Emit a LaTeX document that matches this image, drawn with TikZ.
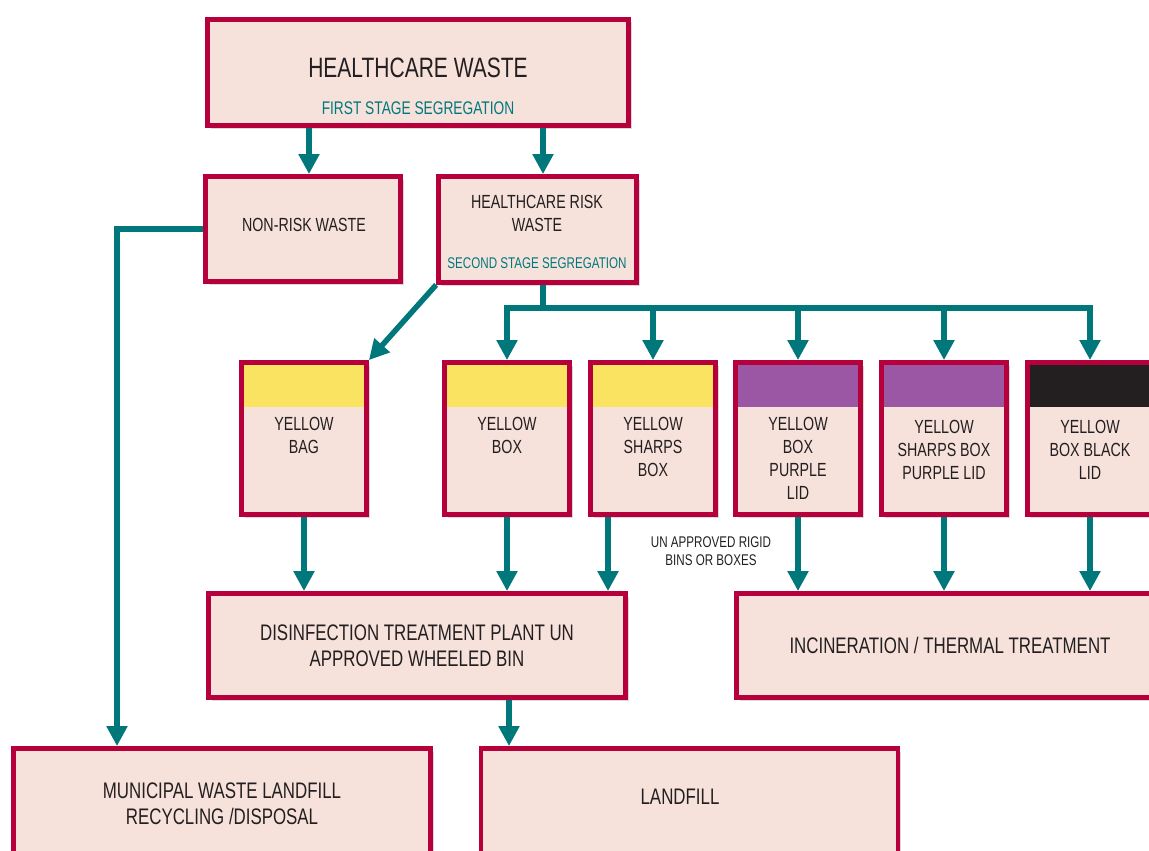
\documentclass[tikz,border=0pt]{standalone}
\usepackage{fontspec}
\setmainfont{Liberation Sans}[FakeStretch=0.75]
\usetikzlibrary{arrows.meta,shadows}
\definecolor{wred}{HTML}{B5003C}
\definecolor{wpink}{HTML}{F6E1DB}
\definecolor{wteal}{HTML}{00787B}
\definecolor{wtext}{HTML}{231F20}
\definecolor{lidyellow}{HTML}{FAE361}
\definecolor{lidpurple}{HTML}{9B57A4}
\definecolor{lidblack}{HTML}{231F20}
\begin{document}
\begin{tikzpicture}[x=1pt,y=-1pt,
		box/.style = {rectangle, draw=wred, fill=wpink, line width=4.8pt, inner sep=0pt,
			drop shadow={shadow xshift=3pt, shadow yshift=-3pt, opacity=0.3}},
		wide box/.style = {box, minimum width=417pt, minimum height=104pt},
		bin/.style = {box, minimum width=125pt, minimum height=152pt,
			path picture={\fill[#1] (path picture bounding box.north west) rectangle ([yshift=-44pt]path picture bounding box.north east);}},
		txt/.style = {text=wtext, align=center, inner sep=0pt, text depth=0pt},
		big/.style = {txt, font=\fontsize{28}{32}\selectfont},
		large/.style = {txt, font=\fontsize{22.5}{26.5}\selectfont},
		mid/.style = {txt, font=\fontsize{19}{23}\selectfont},
		small/.style = {txt, font=\fontsize{15.5}{18}\selectfont},
		arr/.style = {draw=wteal, line width=5.5pt, -{Triangle[width=20pt,length=20pt]}}]
		
		\useasboundingbox (0,0) rectangle (1149,851);
		
		\node[box, minimum width=421pt, minimum height=106pt] (1) at (418,72.5) {};
		\node[big] (t1) at (418,68) {HEALTHCARE WASTE};
		\node[txt, text=wteal, font=\fontsize{18.3}{21}\selectfont] (t1s) at (418,108) {FIRST STAGE SEGREGATION};
		
		\node[box, minimum width=195pt, minimum height=105pt] (2) at (303,229) {};
		\node[mid] (t2) at (304,225) {NON-RISK WASTE};
		\node[box, minimum width=198pt, minimum height=106pt] (3) at (537.5,229.5) {};
		\node[mid] (t3) at (537,213.5) {HEALTHCARE RISK\\WASTE};
		\node[small, text=wteal] (t3s) at (537,263) {SECOND STAGE SEGREGATION};
		
		\node[bin=lidyellow] (4) at (304,438.5) {};
		\node[bin=lidyellow] (5) at (507,438.5) {};
		\node[bin=lidyellow] (6) at (653,438.5) {};
		\node[bin=lidpurple] (7) at (798,438.5) {};
		\node[bin=lidpurple] (8) at (944,438.5) {};
		\node[bin=lidblack] (9) at (1090,438.5) {};
		\node[mid] (t4) at (304,435.5) {YELLOW\\BAG};
		\node[mid] (t5) at (507,435.5) {YELLOW\\BOX};
		\node[mid] (t6) at (653,447) {YELLOW\\SHARPS\\BOX};
		\node[mid] (t7) at (798,458.5) {YELLOW\\BOX\\PURPLE\\LID};
		\node[mid] (t8) at (944,450) {YELLOW\\SHARPS BOX\\PURPLE LID};
		\node[mid] (t9) at (1090,450) {YELLOW\\BOX BLACK\\LID};
		\node[small] (t10) at (711,551) {UN APPROVED RIGID\\BINS OR BOXES};
		
		\node[wide box, large] (10) at (417,645.5) {DISINFECTION TREATMENT PLANT UN\\APPROVED WHEELED BIN};
		\node[wide box, large, minimum width=427pt] (11) at (950,645.5) {INCINERATION / THERMAL TREATMENT};
		\node[wide box, large, minimum height=110pt] (12) at (222,803.5) {MUNICIPAL WASTE LANDFILL\\RECYCLING /DISPOSAL};
		\node[wide box, minimum height=110pt] (13) at (689.5,803.5) {};
		\node[large] (t13) at (680,797) {LANDFILL};
		
		\coordinate (l1) at (309,0);
		\coordinate (l2) at (543,0);
		\coordinate (l3) at (117,0);
		\coordinate (l4) at (608,0);
		\coordinate (l5) at (509,0);
		\coordinate (bus) at (0,308);
		
		\path[every edge/.style={arr}]
		(1.south -| l1) edge (2.north -| l1)
		(1.south -| l2) edge (3.north -| l2)
		(3.south west) edge (4.north east)
		(4.south) edge (10.north -| 4.south)
		(5.south) edge (10.north -| 5.south)
		(6.south -| l4) edge (10.north -| l4)
		(7.south) edge (11.north -| 7.south)
		(8.south) edge (11.north -| 8.south)
		(9.south) edge (11.north -| 9.south)
		(10.south -| l5) edge (13.north -| l5);
		\draw[arr] (2.west) -| (12.north -| l3);
		\foreach \n in {5,...,9}
		\draw[arr] (3.south -| l2) -- (l2 |- bus) -| (\n.north);
		\end{tikzpicture}
\end{document}
